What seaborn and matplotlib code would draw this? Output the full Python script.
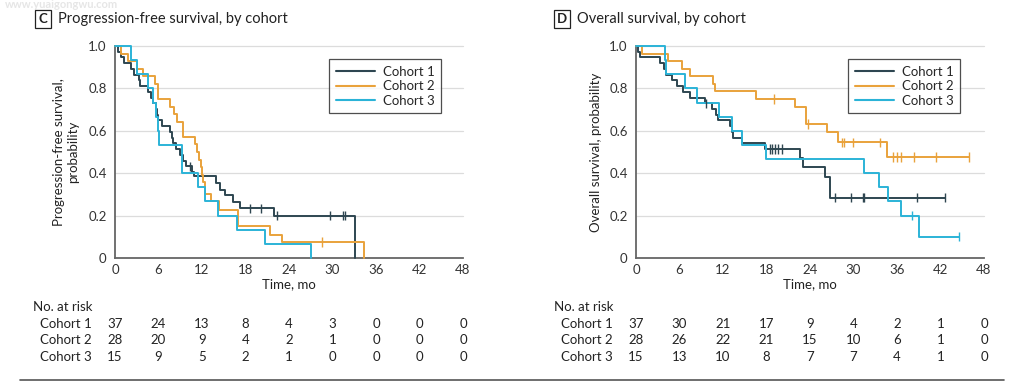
"""
Kaplan-Meier style panels (PFS / OS by cohort) with number-at-risk table.
"""

import matplotlib.pyplot as plt
import matplotlib.transforms as mtransforms
import numpy as np
import pandas as pd
import seaborn as sns
from matplotlib.lines import Line2D

W, H = 1020, 386
COHORTS = ["Cohort 1", "Cohort 2", "Cohort 3"]
COLORS = {"Cohort 1": "#2e4651", "Cohort 2": "#e9a23b", "Cohort 3": "#2bb3d7"}
X_TICKS = [0, 6, 12, 18, 24, 30, 36, 42, 48]

# ---------------------------------------------------------------------------
# Progression-free survival (step times, survival after step)
# ---------------------------------------------------------------------------
pfs1_t = [0, 0.4, 0.8, 1.2, 2.2, 2.6, 3.3, 3.5, 4.5, 4.9, 5.3, 5.6, 5.8, 6.0, 6.5,
          7.6, 7.8, 8.0, 8.4, 9.0, 9.4, 9.8, 10.6, 10.9, 14.0, 14.5, 15.2, 16.3,
          17.3, 22.0, 33.1]
pfs1_s = [1, .973, .946, .919, .892, .865, .838, .811, .784, .757, .730, .703, .676,
          .649, .622, .595, .568, .541, .514, .486, .459, .432, .405, .385, .352,
          .322, .295, .265, .235, .20, 0]
pfs1_cens = [10.3, 18.6, 20.1, 22.3, 29.7, 31.5, 31.7]

pfs2_t = [0, 0.8, 1.8, 3.0, 3.9, 5.5, 6.0, 7.6, 8.1, 8.6, 9.4, 11.0, 11.3, 11.6, 11.8,
          12.0, 12.2, 12.4, 13.3, 14.3, 17.0, 21.4, 23.0, 34.4]
pfs2_s = [1, .964, .929, .893, .857, .821, .75, .714, .679, .643, .571, .536, .50,
          .464, .429, .393, .357, .30, .27, .225, .15, .11, .075, 0]
pfs2_cens = [28.5]

pfs3_t = [0, 2.2, 3.0, 4.5, 5.3, 5.7, 5.9, 6.1, 9.2, 11.5, 12.4, 14.2, 16.8, 20.7, 27.0]
pfs3_s = [1, .933, .867, .80, .733, .667, .60, .533, .40, .333, .267, .20, .133, .067, 0]
pfs3_cens = []

# ---------------------------------------------------------------------------
# Overall survival
# ---------------------------------------------------------------------------
os1_t = [0, 0.3, 0.6, 3.3, 3.8, 4.2, 4.9, 5.6, 6.5, 7.4, 9.5, 10.5, 11.0, 11.3, 13.0,
         13.2, 13.4, 14.6, 17.8, 22.6, 23.1, 26.1, 26.7, 42.6]
os1_s = [1, .973, .946, .919, .892, .865, .838, .811, .784, .757, .730, .703, .676,
         .649, .622, .595, .568, .541, .514, .47, .43, .38, .285, .285]
os1_cens = [9.7, 18.5, 18.8, 19.2, 19.6, 20.1, 27.4, 29.6, 31.3, 31.5, 38.8, 42.6]

os2_t = [0, 0.8, 4.45, 6.3, 7.4, 10.6, 10.9, 16.6, 21.9, 23.4, 26.3, 27.9, 34.6, 45.9]
os2_s = [1, .964, .929, .893, .857, .821, .786, .75, .714, .632, .594, .545, .477, .477]
os2_cens = [19.1, 23.7, 28.4, 28.7, 29.9, 33.7, 35.4, 36.0, 36.5, 38.4, 41.4, 45.9]

os3_t = [0, 4.0, 4.2, 6.7, 8.4, 11.5, 13.3, 14.6, 18.0, 31.4, 33.5, 34.8, 36.6, 39.0, 44.5]
os3_s = [1, .933, .867, .80, .733, .667, .60, .533, .467, .40, .333, .267, .20, .10, .10]
os3_cens = [38.1, 44.5]

# Number at risk
pfs_risk = {"Cohort 1": [37, 24, 13, 8, 4, 3, 0, 0, 0],
            "Cohort 2": [28, 20, 9, 4, 2, 1, 0, 0, 0],
            "Cohort 3": [15, 9, 5, 2, 1, 0, 0, 0, 0]}
os_risk = {"Cohort 1": [37, 30, 21, 17, 9, 4, 2, 1, 0],
           "Cohort 2": [28, 26, 22, 21, 15, 10, 6, 1, 0],
           "Cohort 3": [15, 13, 10, 8, 7, 7, 4, 1, 0]}


def build_frames(curves):
    rows, cens = [], []
    for name, (t, s, c) in zip(COHORTS, curves):
        for ti, si in zip(t, s):
            rows.append({"cohort": name, "time": ti, "surv": si})
        t_arr, s_arr = np.asarray(t), np.asarray(s)
        for ci in c:
            idx = np.searchsorted(t_arr, ci, side="right") - 1
            cens.append({"cohort": name, "time": ci, "surv": s_arr[idx]})
    return pd.DataFrame(rows), pd.DataFrame(cens, columns=["cohort", "time", "surv"])


def fx(px):
    return px / W


def fy(py):
    return 1 - py / H


sns.set_theme(style="white")
plt.rcParams["font.family"] = ["Lato", "DejaVu Sans"]
FS = 9.5

fig = plt.figure(figsize=(W / 100, H / 100), dpi=100)

panels = [
    dict(left=115, letter="C", title="Progression-free survival, by cohort",
         ylabel="Progression-free survival,\nprobability", ylab_x=66,
         curves=[(pfs1_t, pfs1_s, pfs1_cens), (pfs2_t, pfs2_s, pfs2_cens),
                 (pfs3_t, pfs3_s, pfs3_cens)],
         risk=pfs_risk, box_x=43, leg_right=0.957),
    dict(left=636, letter="D", title="Overall survival, by cohort",
         ylabel="Overall survival, probability", ylab_x=596,
         curves=[(os1_t, os1_s, os1_cens), (os2_t, os2_s, os2_cens),
                 (os3_t, os3_s, os3_cens)],
         risk=os_risk, box_x=562, leg_right=0.951),
]

for p in panels:
    ax = fig.add_axes([fx(p["left"]), fy(258), 348 / W, 212 / H])
    df, cens = build_frames(p["curves"])

    for y in [0.2, 0.4, 0.6, 0.8, 1.0]:
        ax.axhline(y, color="#dcdcdc", lw=0.9, zorder=0)

    sns.lineplot(data=df, x="time", y="surv", hue="cohort", palette=COLORS,
                 drawstyle="steps-post", estimator=None, sort=False, lw=1.4,
                 legend=False, ax=ax, zorder=3)
    if len(cens):
        sns.scatterplot(data=cens, x="time", y="surv", hue="cohort", palette=COLORS,
                        marker="|", s=45, linewidth=1.0, legend=False, ax=ax, zorder=4)

    ax.set_xlim(0, 48)
    ax.set_ylim(0, 1.0)
    ax.set_xticks(X_TICKS)
    ax.set_xticklabels([str(v) for v in X_TICKS])
    ax.set_yticks([0, 0.2, 0.4, 0.6, 0.8, 1.0])
    ax.set_yticklabels(["0", "0.2", "0.4", "0.6", "0.8", "1.0"])
    ax.tick_params(axis="both", labelsize=FS, colors="#333333", length=4, width=0.9,
                   pad=2)
    ax.tick_params(axis="x", direction="inout")
    ax.tick_params(axis="y", direction="out")
    ax.set_xlabel("")
    ax.set_ylabel("")
    for side in ["top", "right"]:
        ax.spines[side].set_visible(False)
    for side in ["left", "bottom"]:
        ax.spines[side].set_color("#666666")
        ax.spines[side].set_linewidth(1.3)
    for coll in ax.get_children():
        try:
            coll.set_clip_on(False)
        except AttributeError:
            pass

    handles = [Line2D([], [], color=COLORS[c], lw=1.5) for c in COHORTS]
    leg = ax.legend(handles, COHORTS, loc="upper right",
                    bbox_to_anchor=(p["leg_right"], 0.97), fontsize=FS,
                    frameon=True, fancybox=False, handlelength=3.0,
                    borderpad=0.5, labelspacing=0.2, handletextpad=0.6)
    leg.get_frame().set_edgecolor("#222222")
    leg.get_frame().set_linewidth(0.9)

    # Panel title
    fig.text(fx(p["box_x"]), fy(19), p["letter"], fontsize=FS, fontweight="bold",
             ha="center", va="center", color="#222222",
             bbox=dict(boxstyle="square,pad=0.25", fc="white", ec="#222222", lw=0.9))
    fig.text(fx(p["box_x"] + 15), fy(19), p["title"], fontsize=10.5, ha="left",
             va="center", color="#222222")

    fig.text(fx(p["ylab_x"]), fy(152), p["ylabel"], rotation=90, fontsize=FS,
             ha="center", va="center", multialignment="center", color="#222222")
    fig.text(fx(p["left"] + 174), fy(284), "Time, mo", fontsize=FS, ha="center",
             va="center", color="#222222")

    # Number-at-risk table
    trans = mtransforms.blended_transform_factory(ax.transData, fig.transFigure)
    fig.text(fx(p["left"] - 82), fy(307), "No. at risk", fontsize=FS, ha="left",
             va="center", color="#222222")
    for i, name in enumerate(COHORTS):
        ypos = fy(324 + 16.5 * i)
        fig.text(fx(p["left"] - 75), ypos, name, fontsize=FS, ha="left",
                 va="center", color="#222222")
        for xv, n in zip(X_TICKS, p["risk"][name]):
            ax.text(xv, ypos, str(n), transform=trans, fontsize=FS, ha="center",
                    va="center", color="#222222")

# faint watermark + bottom rule
fig.text(fx(5), fy(5), "www.yuaigongwu.com", fontsize=8, fontweight="bold",
         color="#e6e6e6", ha="left", va="center", zorder=0)
fig.add_artist(Line2D([fx(20), fx(1004)], [fy(380), fy(380)], color="#555555",
                      lw=1.2))

fig.savefig("out.png", dpi=100)
